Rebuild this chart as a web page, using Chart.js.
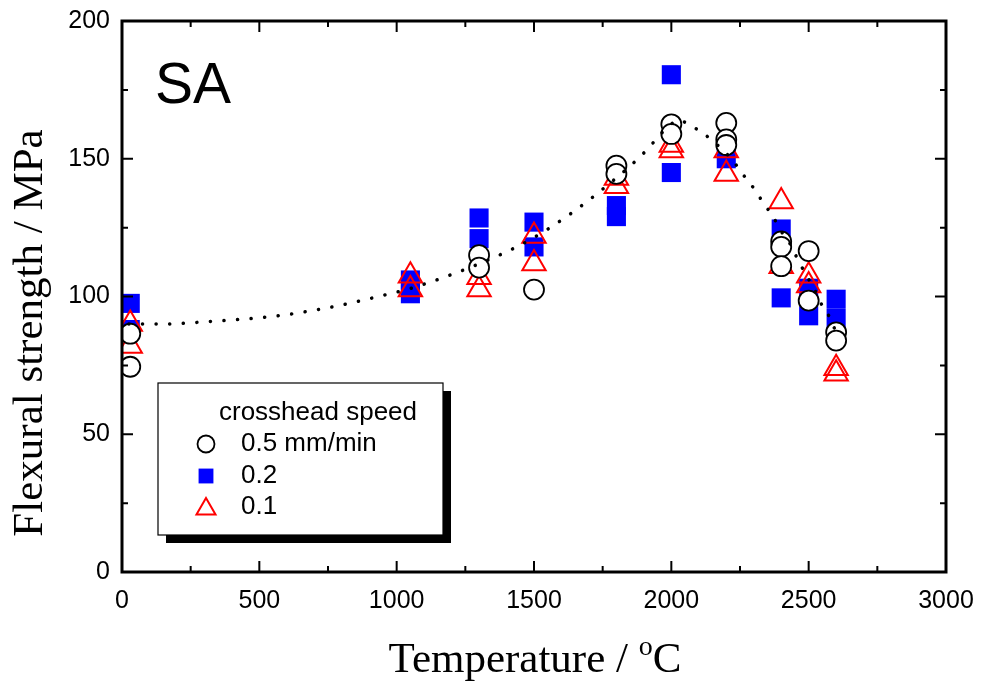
<!DOCTYPE html>
<html>
<head>
<meta charset="utf-8">
<script src="https://cdn.jsdelivr.net/npm/chart.js@4.4.0/dist/chart.umd.min.js"></script>
<style>
  html, body { margin: 0; padding: 0; background: #fff; }
  #wrap { width: 981px; height: 686px; position: relative; }
</style>
</head>
<body>
<div id="wrap"><canvas id="strengthChart"></canvas></div>
<script>
// Flexural strength (MPa) vs test temperature (deg C), one list pair per crosshead speed
var tempFast = [30, 30, 1300, 1300, 1500, 1800, 1800, 2000, 2000, 2200, 2200, 2200, 2400, 2400, 2400, 2500, 2500, 2600, 2600];
var strengthFast = [86.5, 74.5, 115, 110.5, 102.5, 147.5, 144.5, 162.5, 159, 163, 157, 155, 120, 118, 111, 116.5, 98.5, 87, 84];

var tempMid = [30, 30, 1050, 1050, 1300, 1300, 1500, 1500, 1800, 1800, 2000, 2000, 2200, 2400, 2400, 2500, 2500, 2600, 2600];
var strengthMid = [97.5, 88, 106, 101, 128.5, 121, 127, 118, 133, 129, 180.5, 145, 150, 124.5, 99.5, 103, 93, 99, 92];

var tempSlow = [30, 30, 1050, 1050, 1300, 1300, 1500, 1500, 1800, 1800, 2000, 2000, 2200, 2200, 2400, 2400, 2500, 2500, 2600, 2600];
var strengthSlow = [90, 82, 107.5, 102.5, 107, 102.5, 122, 112, 143, 140, 155, 153, 153, 144.5, 134.5, 111, 107.5, 104, 74, 72];

// guide curve drawn through the data
var curveTemp = [25, 150, 300, 550, 750, 950, 1060, 1320, 1475, 1630, 1785, 1892, 1940, 1991, 2030, 2064, 2115, 2220, 2260, 2300, 2335, 2370, 2400, 2435, 2460, 2490, 2520, 2545, 2575, 2600];
var curveStrength = [90, 90, 90.8, 92.8, 95.9, 100.4, 103.2, 112.7, 120, 129.8, 141.8, 151.3, 156.5, 161.9, 164, 162.3, 159.3, 149.8, 144.4, 139.3, 134, 129, 123.7, 118.7, 113.5, 108, 102.8, 97.5, 92.7, 87];

var speedLabels = ['0.5 mm/min', '0.2', '0.1'];
var xTickValues = [0, 500, 1000, 1500, 2000, 2500, 3000];
var yTickValues = [0, 50, 100, 150, 200];

function pairs(xs, ys) {
  var out = [];
  for (var i = 0; i < xs.length; i++) {
    out.push({ x: xs[i], y: ys[i] });
  }
  return out;
}

var sansFont = '"Liberation Sans", Arial, sans-serif';
var serifFont = '"Liberation Serif", "Times New Roman", serif';

// frame, inward ticks, panel tag, axis titles and legend box
var decorPlugin = {
  id: 'decor',
  afterDatasetsDraw: function (chart) {
    var ctx = chart.ctx;
    var a = chart.chartArea;
    var xs = chart.scales.x;
    var ys = chart.scales.y;
    ctx.save();
    ctx.strokeStyle = '#000';
    ctx.lineWidth = 2;
    ctx.beginPath();
    for (var t = 0; t <= 3000; t += 250) {
      var px = xs.getPixelForValue(t);
      var len = t % 500 === 0 ? 11 : 6;
      ctx.moveTo(px, a.bottom);
      ctx.lineTo(px, a.bottom - len);
      ctx.moveTo(px, a.top);
      ctx.lineTo(px, a.top + len);
    }
    for (var s = 0; s <= 200; s += 25) {
      var py = ys.getPixelForValue(s);
      var l = s % 50 === 0 ? 11 : 6;
      ctx.moveTo(a.left, py);
      ctx.lineTo(a.left + l, py);
      ctx.moveTo(a.right, py);
      ctx.lineTo(a.right - l, py);
    }
    ctx.stroke();
    ctx.lineWidth = 3;
    ctx.strokeRect(a.left, a.top, a.right - a.left, a.bottom - a.top);

    ctx.fillStyle = '#000';
    ctx.font = '57px ' + sansFont;
    ctx.textBaseline = 'alphabetic';
    ctx.textAlign = 'left';
    ctx.fillText('SA', 155, 103);
    ctx.restore();
  },
  afterDraw: function (chart) {
    var ctx = chart.ctx;
    ctx.save();
    ctx.fillStyle = '#000';
    ctx.textBaseline = 'alphabetic';
    ctx.textAlign = 'left';

    // x title with a raised "o" before C
    var mainFont = '43px ' + serifFont;
    var supFont = '28px ' + serifFont;
    ctx.font = mainFont;
    var w1 = ctx.measureText('Temperature / ').width;
    var w3 = ctx.measureText('C').width;
    ctx.font = supFont;
    var w2 = ctx.measureText('o').width;
    var x0 = 535 - (w1 + w2 + w3) / 2;
    ctx.font = mainFont;
    ctx.fillText('Temperature / ', x0, 672);
    ctx.font = supFont;
    ctx.fillText('o', x0 + w1, 655);
    ctx.font = mainFont;
    ctx.fillText('C', x0 + w1 + w2, 672);

    // y title, rotated
    ctx.save();
    ctx.translate(42, 333);
    ctx.rotate(-Math.PI / 2);
    ctx.textAlign = 'center';
    ctx.font = mainFont;
    ctx.fillText('Flexural strength / MPa', 0, 0);
    ctx.restore();

    // legend box with drop shadow
    var bx = 158, by = 383, bw = 285, bh = 152;
    ctx.fillStyle = '#000';
    ctx.fillRect(bx + 8, by + 8, bw, bh);
    ctx.fillStyle = '#fff';
    ctx.fillRect(bx, by, bw, bh);
    ctx.strokeStyle = '#000';
    ctx.lineWidth = 1.2;
    ctx.strokeRect(bx, by, bw, bh);

    ctx.fillStyle = '#000';
    ctx.font = '26px ' + sansFont;
    ctx.textBaseline = 'middle';
    ctx.fillText('crosshead speed', 219, 413);

    var rowY = [444, 476, 507];
    var order = [1, 3, 2];
    for (var i = 0; i < 3; i++) {
      var ds = chart.data.datasets[order[i]];
      ctx.fillStyle = ds.pointBackgroundColor;
      ctx.strokeStyle = ds.pointBorderColor;
      ctx.lineWidth = ds.pointBorderWidth;
      Chart.helpers.drawPoint(ctx, {
        pointStyle: ds.pointStyle,
        radius: ds.legendRadius,
        rotation: 0,
        borderWidth: ds.pointBorderWidth
      }, 206, rowY[i] + (ds.pointStyle === 'triangle' ? 2 : 0));
      ctx.fillStyle = '#000';
      ctx.fillText(ds.label, 241, rowY[i]);
    }
    ctx.restore();
  }
};

function plainTick(value) {
  return String(value);
}

new Chart(document.getElementById('strengthChart'), {
  type: 'scatter',
  data: {
    datasets: [
      {
        label: 'fit',
        data: pairs(curveTemp, curveStrength),
        showLine: true,
        pointRadius: 0,
        borderColor: '#000',
        borderWidth: 3.5,
        borderDash: [0.1, 13.5],
        borderCapStyle: 'round',
        cubicInterpolationMode: 'monotone',
        clip: 0
      },
      {
        label: speedLabels[0],
        data: pairs(tempFast, strengthFast),
        pointStyle: 'circle',
        pointRadius: 10,
        legendRadius: 8.5,
        pointBackgroundColor: '#fff',
        pointBorderColor: '#000',
        pointBorderWidth: 1.8,
        clip: 0
      },
      {
        label: speedLabels[2],
        data: pairs(tempSlow, strengthSlow),
        pointStyle: 'triangle',
        pointRadius: 13.5,
        legendRadius: 11,
        pointBackgroundColor: 'rgba(0,0,0,0)',
        pointBorderColor: '#ff0000',
        pointBorderWidth: 2,
        clip: 0
      },
      {
        label: speedLabels[1],
        data: pairs(tempMid, strengthMid),
        pointStyle: 'rect',
        pointRadius: 13.5,
        legendRadius: 10.5,
        pointBackgroundColor: '#0000ff',
        pointBorderColor: '#0000ff',
        pointBorderWidth: 0,
        clip: 0
      }
    ]
  },
  options: {
    responsive: true,
    maintainAspectRatio: false,
    animation: false,
    events: [],
    layout: {
      autoPadding: false,
      padding: { left: 0, right: 35, top: 21, bottom: 0 }
    },
    plugins: {
      legend: { display: false },
      tooltip: { enabled: false }
    },
    scales: {
      x: {
        type: 'linear',
        min: 0,
        max: 3000,
        grid: { display: false, drawTicks: false },
        border: { display: false },
        afterBuildTicks: function (scale) {
          scale.ticks = xTickValues.map(function (v) { return { value: v }; });
        },
        afterFit: function (scale) {
          scale.height = 114;
          scale.paddingLeft = 0;
          scale.paddingRight = 0;
        },
        ticks: {
          color: '#000',
          padding: 14,
          maxRotation: 0,
          callback: plainTick,
          font: { family: sansFont, size: 25 }
        }
      },
      y: {
        type: 'linear',
        min: 0,
        max: 200,
        grid: { display: false, drawTicks: false },
        border: { display: false },
        afterBuildTicks: function (scale) {
          scale.ticks = yTickValues.map(function (v) { return { value: v }; });
        },
        afterFit: function (scale) {
          scale.width = 122;
          scale.paddingTop = 0;
          scale.paddingBottom = 0;
        },
        ticks: {
          color: '#000',
          padding: 12,
          callback: plainTick,
          font: { family: sansFont, size: 25 }
        }
      }
    }
  },
  plugins: [decorPlugin]
});
</script>
</body>
</html>
